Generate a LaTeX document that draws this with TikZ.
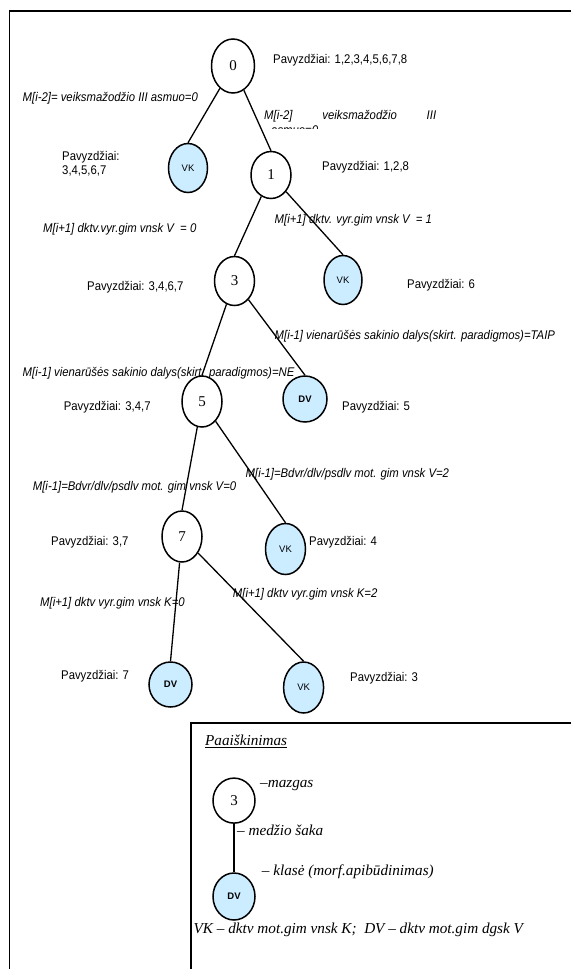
\documentclass[tikz,border=0pt]{standalone}
\usepackage{fontspec}
\setmainfont{Liberation Serif}
\newfontfamily\arial{Liberation Sans}
\newfontfamily\arialn{Liberation Sans}[FakeStretch=0.9]
\usetikzlibrary{shapes.geometric}
\definecolor{lapas}{RGB}{204,236,255}
\tikzset{
  mazgas/.style={draw, line width=1.5pt, ellipse, fill=white, inner sep=0pt,
    minimum width=40pt, minimum height=50pt, font=\fontsize{15}{18}\selectfont},
  klase/.style={mazgas, fill=lapas, font=\arial\fontsize{9.5}{11}\selectfont},
  klasedv/.style={klase, font=\arial\bfseries\fontsize{9.5}{11}\selectfont},
  saka/.style={line width=1.3pt},
  pav/.style={anchor=west, inner sep=0pt, font=\arialn\fontsize{12.6}{14.5}\selectfont},
  salyga/.style={anchor=west, inner sep=0pt, font=\arialn\itshape\fontsize{12.6}{14.5}\selectfont},
  aiski/.style={anchor=west, inner sep=0pt, font=\itshape\fontsize{15.2}{18}\selectfont},
}
\begin{document}
\begin{tikzpicture}[x=1pt,y=-1pt]
\useasboundingbox (0,0) rectangle (571,969);
%remelis
\draw[line width=1.8pt] (571,10.7) -- (9.5,10.7) -- (9.5,969);
%medis
\node[mazgas, minimum width=43pt, minimum height=54pt] (m0) at (233,66) {0};
\node[klase, minimum width=39pt, minimum height=49pt] (vk1) at (188,168) {VK};
\node[mazgas, minimum height=47pt] (m1) at (271,175) {1};
\node[mazgas, minimum height=49pt] (m3) at (234.5,281) {3};
\node[klase, minimum width=38pt, minimum height=49pt] (vk2) at (343,280) {VK};
\node[mazgas, minimum height=51pt] (m5) at (202,401.5) {5};
\node[klasedv, minimum width=44pt, minimum height=46pt] (dv1) at (305,399) {DV};
\node[mazgas, minimum height=51pt] (m7) at (182,536.5) {7};
\node[klase, minimum height=51pt] (vk3) at (285.5,549) {VK};
\node[klasedv, minimum width=43pt, minimum height=45pt] (dv2) at (170.5,684.5) {DV};
\node[klase, minimum height=51pt] (vk4) at (303.6,687.5) {VK};
\draw[saka] (m0) -- (vk1.north);
\draw[saka] (m0) -- (m1.north);
\draw[saka] (m1) -- (m3.north);
\draw[saka] (m1) -- (vk2.north);
\draw[saka] (m3) -- (m5.north);
\draw[saka] (m3) -- (dv1.north);
\draw[saka] (m5) -- (m7.north);
\draw[saka] (m5) -- (vk3.north);
\draw[saka] (m7) -- (dv2.north);
\draw[saka] (m7) -- (vk4.north);
%pavyzdziai
\node[pav] (p0) at (273,60) {Pavyzdžiai: 1,2,3,4,5,6,7,8};
\node[pav, align=left] (pvk1) at (62,163.5) {Pavyzdžiai:\\3,4,5,6,7};
\node[pav] (p1) at (322,167) {Pavyzdžiai: 1,2,8};
\node[pav] (p3) at (87,287) {Pavyzdžiai: 3,4,6,7};
\node[pav] (pvk2) at (407,285.5) {Pavyzdžiai: 6};
\node[pav] (p5) at (63.6,407) {Pavyzdžiai: 3,4,7};
\node[pav] (pdv1) at (342,407) {Pavyzdžiai: 5};
\node[pav] (p7) at (51,542) {Pavyzdžiai: 3,7};
\node[pav] (pvk3) at (309,542) {Pavyzdžiai: 4};
\node[pav] (pdv2) at (61,676) {Pavyzdžiai: 7};
\node[pav] (pvk4) at (350,678) {Pavyzdžiai: 3};
%salygos
\node[salyga] (s0a) at (22.5,98) {M[i-2]= veiksmažodžio III asmuo=0};
\node[salyga] (s0b) at (264,116) {\makebox[172pt][l]{M[i-2]\hfill veiksmažodžio\hfill III}};
\begin{scope}
  \clip (255,100) rectangle (340,128.5);
  \node[salyga] (s0c) at (271,130.5) {asmuo=0};
\end{scope}
\node[salyga] (s1a) at (43,229) {M[i+1] dktv.vyr.gim vnsk V\ \ = 0};
\node[salyga] (s1b) at (274.5,220) {M[i+1] dktv. vyr.gim vnsk V\ \ = 1};
\node[salyga] (s3b) at (274.5,336) {M[i-1] vienarūšės sakinio dalys(skirt. paradigmos)=TAIP};
\node[salyga] (s3a) at (22.5,373) {M[i-1] vienarūšės sakinio dalys(skirt. paradigmos)=NE};
\node[salyga] (s5b) at (245.5,474.5) {M[i-1]=Bdvr/dlv/psdlv mot. gim vnsk V=2};
\node[salyga] (s5a) at (32.7,487) {M[i-1]=Bdvr/dlv/psdlv mot. gim vnsk V=0};
\node[salyga] (s7a) at (40,603.6) {M[i+1] dktv vyr.gim vnsk K=0};
\node[salyga] (s7b) at (232.7,594.5) {M[i+1] dktv vyr.gim vnsk K=2};
%paaiskinimas
\draw[line width=1.8pt] (571,722.7) -- (191.3,722.7) -- (191.3,969);
\node[aiski] (pa) at (205,741.7) {\underline{Paaiškinimas}};
\node[mazgas, minimum width=42pt, minimum height=45pt] (l3) at (234,800.6) {3};
\node[klasedv, minimum width=42pt, minimum height=47pt] (ldv) at (234,896.5) {DV};
\draw[saka] (l3) -- (ldv);
\node[aiski] (lm) at (260,786) {–mazgas};
\node[aiski] (ls) at (237,830) {– medžio šaka};
\node[aiski] (lk) at (261.7,871.7) {– klasė (morf.apibūdinimas)};
\node[aiski] (lvk) at (193.5,930) {VK – dktv mot.gim vnsk K;\ \ DV – dktv mot.gim dgsk V};
\end{tikzpicture}
\end{document}
